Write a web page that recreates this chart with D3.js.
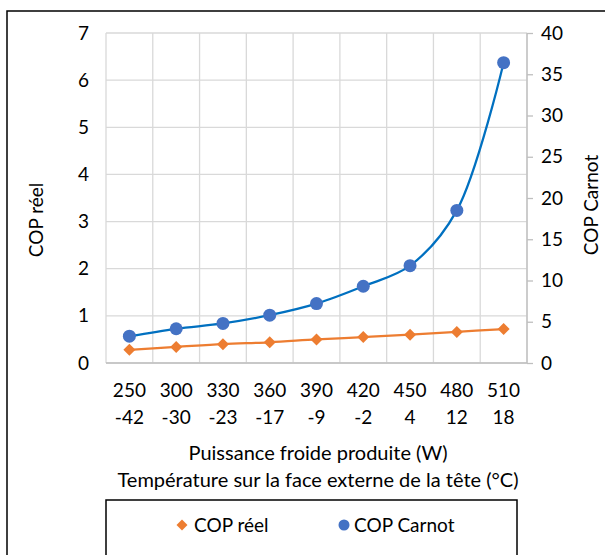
<!DOCTYPE html>
<html><head><meta charset="utf-8">
<script src="https://cdn.jsdelivr.net/npm/d3@7"></script>
<style>body{margin:0;background:#fff}svg{display:block}text{font-family:Lato,"Open Sans",sans-serif;fill:#000}</style>
</head><body>
<svg id="c" width="605" height="555"></svg>
<script>
const powerLabels = ["250","300","330","360","390","420","450","480","510"];
const tempLabels = ["-42","-30","-23","-17","-9","-2","4","12","18"];
const copReel = [0.28, 0.34, 0.40, 0.44, 0.50, 0.55, 0.60, 0.66, 0.72];
const copCarnot = [3.25, 4.15, 4.8, 5.8, 7.2, 9.3, 11.8, 18.5, 36.4];
const leftTicks = [0,1,2,3,4,5,6,7];
const rightTicks = [0,5,10,15,20,25,30,35,40];

const FS = 19;
const svg = d3.select("#c");
const L = 106, R = 527, T = 33, B = 363;
const x = d3.scaleBand().domain(powerLabels).range([L, R]);
const yL = d3.scaleLinear().domain([0, 7]).range([B, T]);
const yR = d3.scaleLinear().domain([0, 40]).range([B, T]);

// outer frame
svg.append("rect").attr("x",7).attr("y",11).attr("width",800).attr("height",800)
  .attr("fill","none").attr("stroke","#000").attr("stroke-width",1.5);

// gridlines
const g = svg.append("g");
leftTicks.forEach(t => g.append("line").attr("x1",L).attr("x2",R).attr("y1",yL(t)).attr("y2",yL(t))
  .attr("stroke","#D9D9D9").attr("stroke-width",1.3));
const bounds = powerLabels.map(d => x(d)).concat([R]);
bounds.forEach(b => g.append("line").attr("x1",b).attr("x2",b).attr("y1",T).attr("y2",B)
  .attr("stroke","#D9D9D9").attr("stroke-width",1.3));
g.append("line").attr("x1",L).attr("x2",R).attr("y1",B).attr("y2",B).attr("stroke","#BFBFBF").attr("stroke-width",1.5);

// right axis line + ticks
const ra = svg.append("g").attr("transform",`translate(${R},0)`)
  .call(d3.axisRight(yR).tickValues(rightTicks).tickSize(6).tickPadding(8));
ra.select(".domain").attr("stroke","#BFBFBF").attr("stroke-width",1.3).attr("d",`M0,${T}V${B}`);
ra.selectAll(".tick line").attr("stroke","#BFBFBF").attr("stroke-width",1.3);
ra.selectAll(".tick text").attr("font-size",FS).attr("font-family","Lato");

// left labels
const la = svg.append("g").attr("transform",`translate(${L},0)`)
  .call(d3.axisLeft(yL).tickValues(leftTicks).tickFormat(d3.format("d")).tickSize(0).tickPadding(17));
la.select(".domain").remove();
la.selectAll(".tick text").attr("font-size",FS).attr("font-family","Lato");

// x labels (two lines)
const xa = svg.append("g").attr("transform",`translate(0,${B})`)
  .call(d3.axisBottom(x).tickSize(0).tickPadding(21));
xa.select(".domain").remove();
xa.selectAll(".tick text").attr("font-size",FS).attr("font-family","Lato");
powerLabels.forEach((p,i) => svg.append("text").attr("x",x(p)+x.bandwidth()/2).attr("y",424)
  .attr("text-anchor","middle").attr("font-size",FS).text(tempLabels[i]));

// axis titles
svg.append("text").attr("x",318).attr("y",460).attr("text-anchor","middle").attr("font-size",20)
  .text("Puissance froide produite (W)");
svg.append("text").attr("x",318).attr("y",487).attr("text-anchor","middle").attr("font-size",20)
  .text("Température sur la face externe de la tête (°C)");
svg.append("text").attr("transform","translate(43,220) rotate(-90)").attr("text-anchor","middle").attr("font-size",FS).text("COP réel");
svg.append("text").attr("transform","translate(598,205) rotate(-90)").attr("text-anchor","middle").attr("font-size",FS).text("COP Carnot");

const cx = d => x(d) + x.bandwidth()/2;
const curve = d3.curveCatmullRom.alpha(0.5);
// orange series
svg.append("path").datum(copReel.map((v,i)=>[cx(powerLabels[i]), yL(v)]))
  .attr("d", d3.line().curve(curve)).attr("fill","none").attr("stroke","#ED7D31").attr("stroke-width",2.25);
svg.selectAll(".dia").data(copReel).join("path")
  .attr("d", d3.symbol().type(d3.symbolSquare).size(72)())
  .attr("transform",(d,i)=>`translate(${cx(powerLabels[i])},${yL(d)}) rotate(45)`)
  .attr("fill","#ED7D31");
// blue series
svg.append("path").datum(copCarnot.map((v,i)=>[cx(powerLabels[i]), yR(v)]))
  .attr("d", d3.line().curve(curve)).attr("fill","none").attr("stroke","#0070C0").attr("stroke-width",2.25);
svg.selectAll(".dot").data(copCarnot).join("circle")
  .attr("cx",(d,i)=>cx(powerLabels[i])).attr("cy",d=>yR(d)).attr("r",6.5).attr("fill","#4472C4");

// legend
svg.append("rect").attr("x",106).attr("y",500).attr("width",411).attr("height",100)
  .attr("fill","none").attr("stroke","#000").attr("stroke-width",1.5);
svg.append("path").attr("d", d3.symbol().type(d3.symbolSquare).size(60)())
  .attr("transform","translate(182,525) rotate(45)").attr("fill","#ED7D31");
svg.append("text").attr("x",194).attr("y",532).attr("font-size",FS).text("COP réel");
svg.append("circle").attr("cx",344).attr("cy",525).attr("r",5.5).attr("fill","#4472C4");
svg.append("text").attr("x",354).attr("y",532).attr("font-size",FS).text("COP Carnot");
</script>
</body></html>
